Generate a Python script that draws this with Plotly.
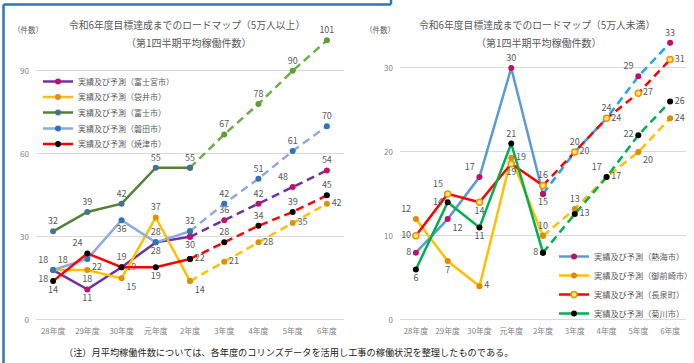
import plotly.graph_objects as go

W, H = 694, 363

# ---------------- data ----------------
categories = ["28年度", "29年度", "30年度", "元年度", "2年度", "3年度", "4年度", "5年度", "6年度"]

left_names = ["実績及び予測（富士宮市）", "実績及び予測（袋井市）", "実績及び予測（富士市）",
              "実績及び予測（磐田市）", "実績及び予測（焼津市）"]
fujinomiya = [18, 11, 19, 28, 30, 36, 42, 48, 54]
fukuroi = [18, 18, 15, 37, 14, 21, 28, 35, 42]
fuji = [32, 39, 42, 55, 55, 67, 78, 90, 101]
iwata = [18, 22, 36, 28, 32, 42, 51, 61, 70]
yaizu = [14, 24, 19, 19, 22, 28, 34, 39, 45]

right_names = ["実績及び予測（熱海市）", "実績及び予測（御前崎市）", "実績及び予測（長泉町）",
               "実績及び予測（菊川市）"]
atami = [8, 12, 17, 30, 15, 20, 24, 29, 33]
omaezaki = [12, 7, 4, 19.3, 10, 13.2, 17, 20, 24]
nagaizumi = [10, 15, 14, 18.6, 16, 20, 24, 27, 31]
kikugawa = [6, 14, 11, 21, 8, 12.6, 17, 22, 26]

left_title = "令和6年度目標達成までのロードマップ（5万人以上）"
right_title = "令和6年度目標達成までのロードマップ（5万人未満）"
subtitle = "（第1四半期平均稼働件数）"
unit_label = "（件数）"
footnote = "（注）月平均稼働件数については、各年度のコリンズデータを活用し工事の稼働状況を整理したものである。"

ACTUAL_N = 5  # 28年度〜2年度 are actual values, 2年度〜6年度 forecast

# ---------------- styles ----------------
FONT = "Noto Sans CJK JP, Noto Sans, sans-serif"
LABEL_COLOR = "#595959"
LABEL_SIZE = 9

left_styles = [
    dict(line="#7030a0", marker="#c0106a", dline="#7030a0", dmarker="#c0106a",
         pos=["bottom left", "bottom center", "middle right", "bottom center", "bottom center",
              "top center", "top center", "top left", "top center"]),
    dict(line="#ffc000", marker="#e09000", dline="#ffc000", dmarker="#e09000",
         pos=["top left", "bottom center", "bottom right", "top center", "bottom right",
              "middle right", "middle right", "middle right", "middle right"]),
    dict(line="#548235", marker="#44728f", dline="#70ad47", dmarker="#5f9e36",
         pos=["top center"] * 9),
    dict(line="#8faadc", marker="#2e75b6", dline="#8faadc", dmarker="#2e75b6",
         pos=["top right", "bottom right", "bottom center", "top center", "top center",
              "top center", "top center", "top center", "top center"]),
    dict(line="#ff0000", marker="#000000", dline="#ff0000", dmarker="#000000",
         pos=["bottom center", "top left", "top center", "bottom center", "middle right",
              "top center", "top center", "top center", "top center"]),
]
right_styles = [
    dict(line="#5b9bd5", marker="#c0106a", dline="#1ea7e6", dmarker="#c0106a",
         pos=["middle left", "bottom right", "top left", "top center", "bottom center",
              "top center", "top center", "top left", "top center"]),
    dict(line="#ffc000", marker="#e08a00", dline="#ffc000", dmarker="#e08a00",
         pos=["top left", "bottom center", "middle right", "middle right", "top center",
              "top center", "top left", "bottom right", "middle right"]),
    dict(line="#ff0000", marker="#ffe680", dline="#ff0000", dmarker="#ffe680", mline="#f39200",
         pos=["middle left", "top left", "bottom center", "bottom center", "top center",
              "middle right", "middle right", "middle right", "middle right"]),
    dict(line="#00b050", marker="#000000", dline="#00b050", dmarker="#000000",
         pos=["bottom center", "middle left", "bottom center", "top center", "middle left",
              "middle right", "middle right", "middle left", "middle right"]),
]

# one single-entry legend per left series so the rows can sit closer together
left_legend_ids = ["legend", "legend3", "legend4", "legend5", "legend6"]
left_legend_rows = [81, 96.5, 112, 128, 143.5]  # pixel row of each entry

fig = go.Figure()


def add_series(name, values, st, xa, ya, legend):
    labels = [f"{v:.0f}" for v in values]
    mline = st.get("mline", st["marker"])
    mlw = 1.5 if "mline" in st else 0
    # actual (solid)
    fig.add_trace(go.Scatter(
        x=categories[:ACTUAL_N], y=values[:ACTUAL_N], name=name, legend=legend,
        mode="lines+markers+text", xaxis=xa, yaxis=ya,
        line=dict(color=st["line"], width=2.5),
        marker=dict(color=st["marker"], size=6, line=dict(color=mline, width=mlw)),
        text=labels[:ACTUAL_N], textposition=st["pos"][:ACTUAL_N],
        textfont=dict(size=LABEL_SIZE, color=LABEL_COLOR, family=FONT),
        cliponaxis=False, hoverinfo="skip",
    ))
    # forecast (dashed)
    ftext = [""] + labels[ACTUAL_N:]
    fig.add_trace(go.Scatter(
        x=categories[ACTUAL_N - 1:], y=values[ACTUAL_N - 1:], name=name, showlegend=False,
        mode="lines+markers+text", xaxis=xa, yaxis=ya,
        line=dict(color=st["dline"], width=2.5, dash="8px,5px"),
        marker=dict(color=[st["marker"]] + [st["dmarker"]] * (len(values) - ACTUAL_N),
                    size=6, line=dict(color=mline, width=mlw)),
        text=ftext, textposition=st["pos"][ACTUAL_N - 1:],
        textfont=dict(size=LABEL_SIZE, color=LABEL_COLOR, family=FONT),
        cliponaxis=False, hoverinfo="skip",
    ))


for n, v, s, lg in zip(left_names, [fujinomiya, fukuroi, fuji, iwata, yaizu], left_styles,
                       left_legend_ids):
    add_series(n, v, s, "x", "y", lg)
for n, v, s in zip(right_names, [atami, omaezaki, nagaizumi, kikugawa], right_styles):
    add_series(n, v, s, "x2", "y2", "legend2")


def px_x(p):
    return p / W


def px_y(p):
    return 1 - p / H


axis_common = dict(showline=False, zeroline=False, ticks="", fixedrange=True)
xtick_font = dict(size=7.8, color="#7f7f7f")
ytick_font = dict(size=8, color="#7f7f7f")

fig.update_layout(
    width=W, height=H, margin=dict(l=0, r=0, t=0, b=0, autoexpand=False),
    paper_bgcolor="white", plot_bgcolor="white",
    font=dict(family=FONT, color=LABEL_COLOR),
    xaxis=dict(domain=[px_x(36), px_x(344)], type="category", range=[-0.5, 8.5],
               showgrid=False, tickfont=xtick_font, ticklabelstandoff=1, **axis_common),
    yaxis=dict(domain=[px_y(324), px_y(21)], range=[-1.5, 108], tickvals=[0, 30, 60, 90],
               showgrid=True, gridcolor="#d9d9d9", gridwidth=1,
               tickfont=ytick_font, ticklabelstandoff=6, **axis_common),
    xaxis2=dict(domain=[px_x(400), px_x(686)], type="category", range=[-0.5, 8.5],
                showgrid=False, tickfont=xtick_font, anchor="y2", ticklabelstandoff=1,
                **axis_common),
    yaxis2=dict(domain=[px_y(324), px_y(26)], range=[-0.5, 35], tickvals=[0, 10, 20, 30],
                showgrid=True, gridcolor="#d9d9d9", gridwidth=1, anchor="x2",
                tickfont=ytick_font, ticklabelstandoff=6, **axis_common),
    legend2=dict(x=px_x(554), y=px_y(242), xanchor="left", yanchor="top",
                 bgcolor="rgba(0,0,0,0)", font=dict(size=8.2, color=LABEL_COLOR),
                 itemwidth=30, tracegroupgap=0),
    showlegend=True,
)
for lg, row in zip(left_legend_ids, left_legend_rows):
    fig.update_layout({lg: dict(x=px_x(38), y=px_y(row - 14), xanchor="left", yanchor="top",
                                bgcolor="rgba(0,0,0,0)", font=dict(size=8, color=LABEL_COLOR),
                                itemwidth=30, tracegroupgap=0)})

ann = []
for cx, title in [(187, left_title), (537, right_title)]:
    ann.append(dict(x=px_x(cx), y=px_y(25), text=title, showarrow=False, xref="paper",
                    yref="paper", xanchor="center", yanchor="middle",
                    font=dict(size=9.8, color=LABEL_COLOR)))
    ann.append(dict(x=px_x(cx + 2), y=px_y(43), text=subtitle, showarrow=False, xref="paper",
                    yref="paper", xanchor="center", yanchor="middle",
                    font=dict(size=10, color=LABEL_COLOR)))
for ux in [28, 380]:
    ann.append(dict(x=px_x(ux), y=px_y(29), text=unit_label, showarrow=False, xref="paper",
                    yref="paper", xanchor="center", yanchor="middle",
                    font=dict(size=7.5, color=LABEL_COLOR)))
ann.append(dict(x=px_x(62), y=px_y(352), text=footnote, showarrow=False, xref="paper",
                yref="paper", xanchor="left", yanchor="middle",
                font=dict(size=9.2, color="#222222")))
fig.update_layout(annotations=ann)

# blue frame of the clipped figure box
frame = "#2e75b6"
fig.add_shape(type="line", xref="paper", yref="paper", x0=px_x(3.5), x1=px_x(3.5),
              y0=px_y(4.5), y1=px_y(363), line=dict(color=frame, width=2.5))
fig.add_shape(type="line", xref="paper", yref="paper", x0=px_x(3.5), x1=px_x(391),
              y0=px_y(4.5), y1=px_y(4.5), line=dict(color=frame, width=2.5))
fig.add_shape(type="line", xref="paper", yref="paper", x0=px_x(391), x1=px_x(391),
              y0=px_y(0), y1=px_y(4.5), line=dict(color=frame, width=2.5))

fig.write_html("out.html")
